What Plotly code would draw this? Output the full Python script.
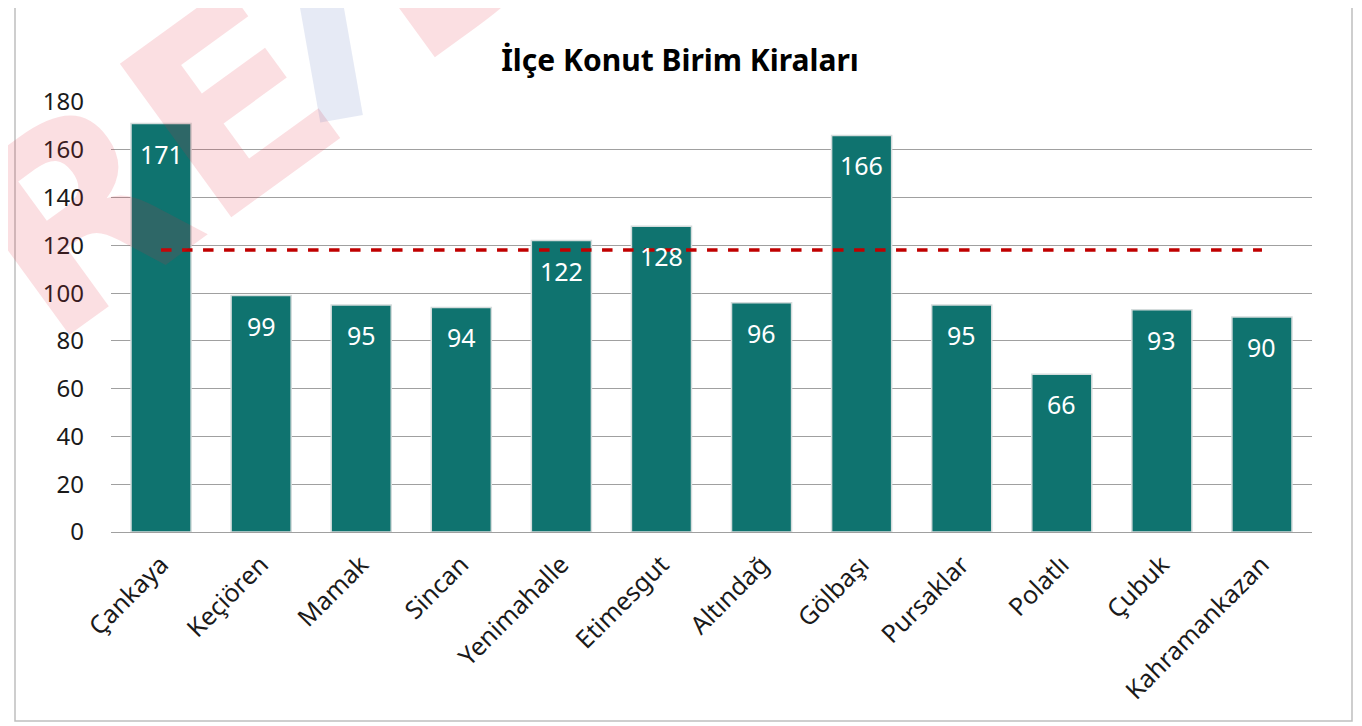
import plotly.graph_objects as go

ILCELER = ["Çankaya", "Keçiören", "Mamak", "Sincan", "Yenimahalle", "Etimesgut",
           "Altındağ", "Gölbaşı", "Pursaklar", "Polatlı", "Çubuk", "Kahramankazan"]
KIRALAR = [171, 99, 95, 94, 122, 128, 96, 166, 95, 66, 93, 90]
ORTALAMA = [118] * len(ILCELER)

FONT = "Noto Sans"
# sayfa gövdesinin 8px boşluğu hesaba katılıyor
OFF = 8
W, H = 1362 - OFF, 726 - OFF
L, R, T, B = 111 - OFF, 50, 102 - OFF, 194
PW, PH = W - L - R, H - T - B


def px(x):
    return (x - OFF - L) / PW


def py(y):
    return (H - B - (y - OFF)) / PH


fig = go.Figure()

fig.add_trace(go.Bar(
    x=ILCELER, y=KIRALAR,
    marker=dict(color="#0F736F", line=dict(color="#D4DCDC", width=1.5)),
    showlegend=False, hoverinfo="x+y",
))

fig.add_trace(go.Scatter(
    x=ILCELER, y=ORTALAMA, mode="lines",
    line=dict(color="#C00000", width=3.5, dash="dash"),
    showlegend=False,
))

# değer etiketleri: çubuğun üst kenarından biraz aşağıda
for ilce, kira in zip(ILCELER, KIRALAR):
    fig.add_annotation(
        x=ilce, y=kira, yshift=-30, text=str(kira), showarrow=False,
        xanchor="center", yanchor="middle",
        font=dict(color="white", size=25, family=FONT),
    )

# filigran
fig.add_annotation(
    text="<b>RE</b>", xref="paper", yref="paper", x=px(150), y=py(165),
    xanchor="center", yanchor="middle", showarrow=False, textangle=-36,
    font=dict(size=260, color="rgba(230,40,60,0.15)", family="DejaVu Sans"),
)
fig.add_annotation(
    text="<b>I</b>", xref="paper", yref="paper", x=px(328), y=py(40),
    xanchor="center", yanchor="middle", showarrow=False, textangle=-10,
    font=dict(size=230, color="rgba(60,90,180,0.13)", family="DejaVu Sans"),
)
fig.add_annotation(
    text="<b>D</b>", xref="paper", yref="paper", x=px(450), y=py(-65),
    xanchor="center", yanchor="middle", showarrow=False, textangle=-36,
    font=dict(size=260, color="rgba(230,40,60,0.15)", family="DejaVu Sans"),
)

# çerçeve
fig.add_shape(
    type="rect", xref="paper", yref="paper",
    x0=px(15), x1=px(1352), y0=py(721), y1=py(5),
    line=dict(color="#BEBEBE", width=1.5), layer="below",
)

fig.update_layout(
    width=W, height=H,
    margin=dict(l=L, r=R, t=T, b=B),
    paper_bgcolor="white", plot_bgcolor="white",
    bargap=0.4,
    title=dict(text="<b>İlçe Konut Birim Kiraları</b>", xref="paper", x=px(680),
               xanchor="center", y=1 - (60 - OFF) / H, yanchor="middle",
               font=dict(size=30, color="black", family=FONT)),
    font=dict(family=FONT, color="#1a1a1a"),
)
fig.update_xaxes(tickangle=-45, tickfont=dict(size=25), showgrid=False,
                 showline=False, ticks="", ticklabelstandoff=12)
fig.update_yaxes(range=[0, 180], dtick=20, tickfont=dict(size=24),
                 showgrid=True, gridcolor="#A0A0A0", gridwidth=1,
                 zeroline=True, zerolinecolor="#A0A0A0", zerolinewidth=1,
                 ticks="", ticklabelstandoff=26)

fig.write_html("out.html")
